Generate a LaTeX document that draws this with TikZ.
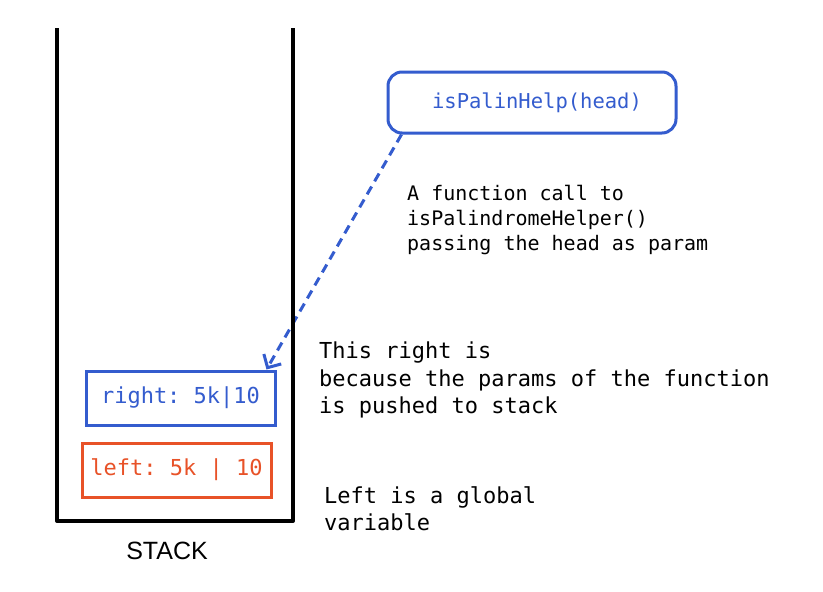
\documentclass[tikz,border=0pt]{standalone}
\usepackage{fontspec}
\setmonofont{DejaVu Sans Mono}
\setsansfont{Liberation Sans}
\usetikzlibrary{arrows.meta}
\definecolor{callblue}{RGB}{52,92,206}
\definecolor{leftred}{RGB}{232,82,40}
\newcommand{\codefont}[1]{\fontsize{#1}{#1}\selectfont\ttfamily}
\tikzset{
	frame/.style={draw, line width=3pt, minimum width=189pt, minimum height=54pt, inner sep=0pt, font=\codefont{22}},
	note/.style={anchor=north west, align=left, inner sep=0pt},
}

\begin{document}
\begin{tikzpicture}[x=1pt, y=-1pt]
		%%%%% START %%%%%
		\useasboundingbox[fill=white] (0, 0) rectangle (823, 592);
		
		\node[frame, callblue, rounded corners=14pt, minimum width=288pt, minimum height=61pt, font=\codefont{20.5}] (call) at (532, 102.5) {\hspace*{10pt}isPalinHelp(head)};
		\node[frame, callblue] (right) at (180.5, 398) {right: 5k|10};
		\node[frame, leftred] (left) at (176.5, 470) {left: 5k | 10};
		
		\draw[callblue, line width=3pt, dash pattern=on 9pt off 6pt, -{Straight Barb[length=10pt, width=20pt, line width=3pt]}] ([xshift=15pt]call.south west) -- ([xshift=-10pt]right.north east);
		
		\draw[line width=4pt, line join=round] (57, 28) -- (57, 521) -- (293, 521) -- (293, 28);
		\node[font=\fontsize{25}{25}\selectfont\sffamily] (stack) at (167, 551) {STACK};
		
		\node[note, font=\fontsize{20}{25}\selectfont\ttfamily] (callnote) at (407, 185) {A function call to\\isPalindromeHelper()\\passing the head as param};
		\node[note, font=\fontsize{22}{27.5}\selectfont\ttfamily] (rightnote) at (319, 342) {This right is\\because the params of the function\\is pushed to stack};
		\node[note, font=\fontsize{22}{27}\selectfont\ttfamily] (leftnote) at (324, 486) {Left is a global\\variable};
		%%%%% END %%%%%
\end{tikzpicture}
\end{document}
